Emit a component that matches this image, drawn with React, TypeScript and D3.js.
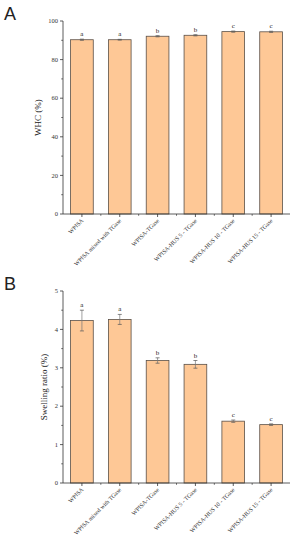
import { useEffect } from "react";
import * as d3 from "d3";

const categories = [
  "WPISA",
  "WPISA mixed with TGase",
  "WPISA-TGase",
  "WPISA-HUS 5 - TGase",
  "WPISA-HUS 10 - TGase",
  "WPISA-HUS 15 - TGase",
];

const whcValues = [90.3, 90.3, 92.1, 92.6, 94.5, 94.4];
const whcErrors = [0.3, 0.2, 0.3, 0.3, 0.3, 0.3];
const whcLetters = ["a", "a", "b", "b", "c", "c"];
const whcTicks = [0, 20, 40, 60, 80, 100];

const swellValues = [4.23, 4.26, 3.19, 3.09, 1.61, 1.52];
const swellErrors = [0.27, 0.13, 0.07, 0.1, 0.03, 0.02];
const swellLetters = ["a", "a", "b", "b", "c", "c"];
const swellTicks = [0, 1, 2, 3, 4, 5];

const serif = "'Liberation Serif', 'DejaVu Serif', serif";
const barFill = "#fec896";
const barStroke = "#5a5048";
const axisColor = "#333";

const Panel = ({ top, bottom, yMax, ticks, values, errors, letters, label, yTitle, titleX }) => {
  const left = 63;
  const right = 290;
  const x = d3.scaleBand().domain(categories).range([left, right]).paddingInner(0.4).paddingOuter(0.2);
  const y = d3.scaleLinear().domain([0, yMax]).range([bottom, top]);
  const step = ticks[1] - ticks[0];
  const minor = ticks.slice(0, -1).map((t) => t + step / 2);
  const bw = x.bandwidth();

  return (
    <g>
      <text x={4} y={top - 1} fontFamily="'Liberation Sans', Arial, sans-serif" fontSize={18} fill="#222">
        {label}
      </text>
      <text
        transform={`translate(${titleX},${(top + bottom) / 2}) rotate(-90)`}
        textAnchor="middle"
        fontFamily={serif}
        fontSize={9}
        fill="#222"
      >
        {yTitle}
      </text>

      {categories.map((c, i) => {
        const cx = x(c) + bw / 2;
        const hi = y(values[i] + errors[i]);
        const lo = y(values[i] - errors[i]);
        return (
          <g key={c}>
            <rect
              x={x(c)}
              y={y(values[i])}
              width={bw}
              height={bottom - y(values[i])}
              fill={barFill}
              stroke={barStroke}
              strokeWidth={0.8}
            />
            <line x1={cx} x2={cx} y1={hi} y2={lo} stroke="#777" strokeWidth={0.7} />
            <line x1={cx - 2} x2={cx + 2} y1={hi} y2={hi} stroke="#555" strokeWidth={0.7} />
            <line x1={cx - 2} x2={cx + 2} y1={lo} y2={lo} stroke="#555" strokeWidth={0.7} />
            <text x={cx} y={hi - 3} textAnchor="middle" fontFamily={serif} fontSize={7} fill="#222">
              {letters[i]}
            </text>
          </g>
        );
      })}

      {/* y axis */}
      <line x1={left} x2={left} y1={top} y2={bottom} stroke={axisColor} strokeWidth={0.8} />
      {ticks.map((t) => (
        <g key={t}>
          <line x1={left - 3} x2={left} y1={y(t)} y2={y(t)} stroke={axisColor} strokeWidth={0.8} />
          <text
            x={left - 5}
            y={y(t)}
            dy="0.33em"
            textAnchor="end"
            fontFamily={serif}
            fontSize={6.5}
            fill="#333"
          >
            {t}
          </text>
        </g>
      ))}
      {minor.map((t) => (
        <line key={t} x1={left - 1.8} x2={left} y1={y(t)} y2={y(t)} stroke={axisColor} strokeWidth={0.7} />
      ))}

      {/* x axis */}
      <line x1={left} x2={right} y1={bottom} y2={bottom} stroke={axisColor} strokeWidth={0.8} />
      {categories.map((c, i) => {
        const cx = x(c) + bw / 2;
        return (
          <g key={c}>
            <line x1={cx} x2={cx} y1={bottom} y2={bottom + 3} stroke={axisColor} strokeWidth={0.8} />
            {i > 0 && (
              <line
                x1={x(c) - (x.step() - bw) / 2}
                x2={x(c) - (x.step() - bw) / 2}
                y1={bottom}
                y2={bottom + 1.8}
                stroke={axisColor}
                strokeWidth={0.7}
              />
            )}
            <text
              transform={`translate(${cx + 2},${bottom + 7}) rotate(-45)`}
              textAnchor="end"
              fontFamily={serif}
              fontSize={6}
              fill="#333"
            >
              {c}
            </text>
          </g>
        );
      })}
    </g>
  );
};

export default function App() {
  useEffect(() => {
    document.body.style.margin = "0";
  }, []);

  return (
    <svg width={297} height={550} style={{ display: "block", background: "#fff" }}>
      <Panel
        top={21}
        bottom={214}
        yMax={100}
        ticks={whcTicks}
        values={whcValues}
        errors={whcErrors}
        letters={whcLetters}
        label="A"
        yTitle="WHC (%)"
        titleX={41}
      />
      <Panel
        top={291}
        bottom={483}
        yMax={5}
        ticks={swellTicks}
        values={swellValues}
        errors={swellErrors}
        letters={swellLetters}
        label="B"
        yTitle="Swelling ratio (%)"
        titleX={47}
      />
    </svg>
  );
}
